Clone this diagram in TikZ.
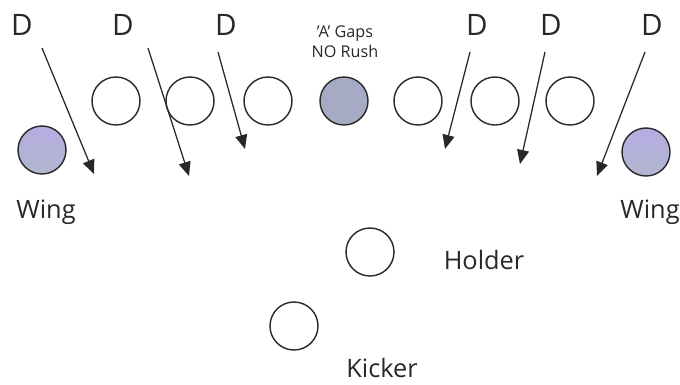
\documentclass[tikz,border=0pt]{standalone}
\usepackage{fontspec}
\setmainfont{Open Sans}
\usetikzlibrary{arrows.meta}

\definecolor{wingtop}{RGB}{182,172,226}
\definecolor{wingbot}{RGB}{176,182,206}
\definecolor{snapfill}{RGB}{166,170,196}
\definecolor{ink}{RGB}{40,40,40}

\tikzset{
	player/.style={circle,draw=ink,line width=1pt,minimum size=1.2cm,inner sep=0pt},
	wing/.style={player,top color=wingtop,bottom color=wingbot,shading angle=0},
	defender/.style={font=\fontsize{21}{21}\selectfont,text=ink},
	lbl/.style={font=\fontsize{18}{18}\selectfont,text=ink},
	small/.style={font=\fontsize{11.5}{14}\selectfont,text=ink,align=center},
	rush/.style={-{Triangle[length=10pt,width=8.5pt]},draw=ink,line width=0.9pt}
}

\begin{document}
\begin{tikzpicture}[x=0.025cm,y=-0.025cm]
	\useasboundingbox (0,0) rectangle (680,384);
	%defenders
		\node[defender] (d1) at (22,25) {D};
		\node[defender] (d2) at (123,25) {D};
		\node[defender] (d3) at (226,25) {D};
		\node[defender] (d4) at (477,25) {D};
		\node[defender] (d5) at (551,25) {D};
		\node[defender] (d6) at (652,25) {D};
	%line
		\node[player] (lt) at (116,101) {};
		\node[player] (lg) at (190,101) {};
		\node[player] (lc) at (268,101) {};
		\node[player,fill=snapfill] (snap) at (344,101) {};
		\node[player] (rc) at (418,101) {};
		\node[player] (rg) at (495,101) {};
		\node[player] (rt) at (570,101) {};
		\node[small] (gaps) at (345,42) {'A' Gaps\\NO Rush};
	%wings
		\node[wing] (lwing) at (42,150) {};
		\node[wing] (rwing) at (646,152) {};
		\node[lbl] (lwinglbl) at (46,212) {Wing};
		\node[lbl] (rwinglbl) at (650,212) {Wing};
	%holder + kicker
		\node[player] (holder) at (370,252) {};
		\node[lbl] (holderlbl) at (484,260) {Holder};
		\node[player] (kicker) at (294,326) {};
		\node[lbl] (kickerlbl) at (382,368) {Kicker};
	%rush lanes
		\coordinate (s1) at (42,48);  \coordinate (e1) at (94,174);
		\coordinate (s2) at (148,48); \coordinate (e2) at (189,176);
		\coordinate (s3) at (218,52); \coordinate (e3) at (245,149);
		\coordinate (s4) at (470,52); \coordinate (e4) at (445,149);
		\coordinate (s5) at (545,52); \coordinate (e5) at (520,164);
		\coordinate (s6) at (645,52); \coordinate (e6) at (597,176);
		\foreach \i in {1,...,6}
			\draw[rush] (s\i) -- (e\i);
\end{tikzpicture}
\end{document}
